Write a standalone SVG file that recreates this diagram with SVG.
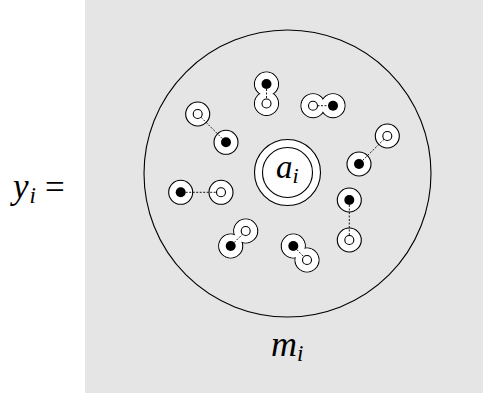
<svg xmlns="http://www.w3.org/2000/svg" width="483" height="393" viewBox="0 0 483 393">
<style>
.ring{fill:#fff;stroke:#000;stroke-width:1.1}
.cover{fill:#fff;stroke:none}
.bd{fill:#000}
.wd{fill:#fff;stroke:#000;stroke-width:1.1}
.con{stroke:#000;stroke-width:0.9;stroke-dasharray:2 1.5;fill:none}
.m{font-family:"Liberation Serif","DejaVu Serif",serif;font-style:italic;fill:#000}
.r{font-family:"Liberation Serif","DejaVu Serif",serif;fill:#000}
</style>
<rect x="0" y="0" width="483" height="393" fill="#fff"/>
<rect x="85" y="0" width="398" height="393" fill="#e5e5e5"/>
<g id="label-y">
<text class="m" x="13" y="198" font-size="35">y<tspan font-size="23" dx="1" dy="5">i</tspan></text>
<text class="r" x="45" y="199" font-size="35">=</text>
</g>
<g id="domain">
<circle cx="287.5" cy="173.5" r="143.5" fill="none" stroke="#000" stroke-width="1.1"/>
</g>
<g id="label-m">
<text class="m" x="271" y="356" font-size="36">m<tspan font-size="23" dy="5">i</tspan></text>
</g>
<g id="center-a">
<circle class="ring" cx="287.5" cy="172.5" r="33"/>
<circle class="ring" cx="287.5" cy="172.5" r="25"/>
<text class="m" x="276" y="178" font-size="33">a<tspan font-size="22" dy="5">i</tspan></text>
</g>
<g id="pair1">
<circle class="ring" cx="266.5" cy="84" r="12"/>
<circle class="ring" cx="266.5" cy="103.5" r="12"/>
<circle class="cover" cx="266.5" cy="84" r="11.4"/>
<circle class="cover" cx="266.5" cy="103.5" r="11.4"/>
<circle class="bd" cx="266.5" cy="84" r="5"/>
<circle class="wd" cx="266.5" cy="103.5" r="4.5"/>
</g>
<g id="pair2">
<circle class="ring" cx="313" cy="105.7" r="12"/>
<circle class="ring" cx="333" cy="105.7" r="12"/>
<circle class="cover" cx="313" cy="105.7" r="11.4"/>
<circle class="cover" cx="333" cy="105.7" r="11.4"/>
<circle class="wd" cx="313" cy="105.7" r="4.5"/>
<circle class="bd" cx="333" cy="105.7" r="5"/>
</g>
<g id="pair3">
<circle class="ring" cx="197.7" cy="114" r="12"/>
<circle class="ring" cx="226" cy="142.3" r="12"/>
<circle class="wd" cx="197.7" cy="114" r="4.5"/>
<circle class="bd" cx="226" cy="142.3" r="5"/>
</g>
<g id="pair4">
<circle class="ring" cx="387.3" cy="136" r="12"/>
<circle class="ring" cx="359" cy="164" r="12"/>
<circle class="wd" cx="387.3" cy="136" r="4.5"/>
<circle class="bd" cx="359" cy="164" r="5"/>
</g>
<g id="pair5">
<circle class="ring" cx="180.7" cy="192.3" r="12"/>
<circle class="ring" cx="221" cy="192.3" r="12"/>
<circle class="bd" cx="180.7" cy="192.3" r="5"/>
<circle class="wd" cx="221" cy="192.3" r="4.5"/>
</g>
<g id="pair6">
<circle class="ring" cx="349.3" cy="200" r="12"/>
<circle class="ring" cx="349.3" cy="240" r="12"/>
<circle class="bd" cx="349.3" cy="200" r="5"/>
<circle class="wd" cx="349.3" cy="240" r="4.5"/>
</g>
<g id="pair7">
<circle class="ring" cx="230.7" cy="246" r="12"/>
<circle class="ring" cx="245.7" cy="231" r="12"/>
<circle class="cover" cx="230.7" cy="246" r="11.4"/>
<circle class="cover" cx="245.7" cy="231" r="11.4"/>
<circle class="bd" cx="230.7" cy="246" r="5"/>
<circle class="wd" cx="245.7" cy="231" r="4.5"/>
</g>
<g id="pair8">
<circle class="ring" cx="293.3" cy="246" r="12"/>
<circle class="ring" cx="307" cy="260" r="12"/>
<circle class="cover" cx="293.3" cy="246" r="11.4"/>
<circle class="cover" cx="307" cy="260" r="11.4"/>
<circle class="bd" cx="293.3" cy="246" r="5"/>
<circle class="wd" cx="307" cy="260" r="4.5"/>
</g>
<g id="connectors">
<line class="con" x1="266.5" y1="89" x2="266.5" y2="99"/>
<line class="con" x1="317.5" y1="105.7" x2="328" y2="105.7"/>
<line class="con" x1="201" y1="117.3" x2="222.5" y2="138.8"/>
<line class="con" x1="384" y1="139.3" x2="362.6" y2="160.5"/>
<line class="con" x1="185.7" y1="192.3" x2="216.5" y2="192.3"/>
<line class="con" x1="349.3" y1="205" x2="349.3" y2="235.5"/>
<line class="con" x1="234.2" y1="242.5" x2="242.5" y2="234.2"/>
<line class="con" x1="296.8" y1="249.6" x2="303.8" y2="256.7"/>
</g>
</svg>
